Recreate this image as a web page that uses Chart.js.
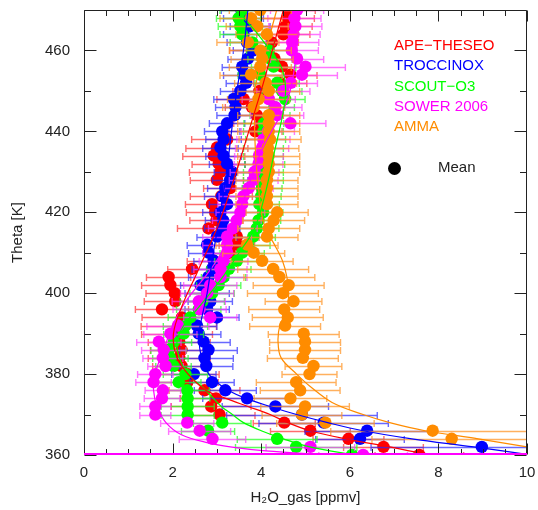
<!DOCTYPE html>
<html>
<head>
<meta charset="utf-8">
<script src="https://cdn.jsdelivr.net/npm/chart.js@4.4.1/dist/chart.umd.min.js"></script>
<style>
html,body{margin:0;padding:0;background:#fff;}
#wrap{width:538px;height:510px;}
</style>
</head>
<body>
<div id="wrap"><canvas id="c" width="538" height="510"></canvas></div>
<script>
// ---------------- DATA ----------------
const SERIES_NAMES = ["APE\u2212THESEO", "TROCCINOX", "SCOUT\u2212O3", "SOWER 2006", "AMMA"];

const THETA_FULL = [360,362,364,366,368,370,372,374,376,378,380,382,384,386,388,390,392,394,396,398,400,402,404,406,408,410,412,414,416,418,420,422,424,426,428,430,432,434,436,438,440,442,444,446,448,450,452,454,456,458,460,462,464,466,468,470];
const THETA_BLUE = [362,364,366,368,370,372,374,376,378,380,382,384,386,388,390,392,394,396,398,400,402,404,406,408,410,412,414,416,418,420,422,424,426,428,430,432,434,436,438,440,442,444,446,448,450,452,454,456,458,460,462,464,466,468,470];
const THETA_ORANGE = [364,366,368,370,372,374,376,378,380,382,384,386,388,390,392,394,396,398,400,402,404,406,408,410,412,414,416,418,420,422,424,426,428,430,432,434,436,438,440,442,444,446,448,450,452,454,456,458,460,462,464,466,468,470];

const RED_X = [7.57,6.76,5.97,5.11,4.52,3.06,2.87,2.98,2.72,2.33,2.35,2.20,2.15,2.20,2.15,2.10,2.14,2.21,1.76,2.06,2.05,1.95,1.91,2.44,2.93,3.29,3.45,3.45,2.81,2.99,2.96,2.89,3.10,3.30,3.00,3.08,3.04,2.93,3.00,3.23,3.87,3.98,3.90,3.79,3.60,3.96,4.43,4.66,4.47,4.30,3.79,4.24,4.50,4.55,4.60,4.62];
const RED_ERR = [1.0,0.9,0.8,0.9,0.7,0.8,0.9,0.8,0.8,0.7,0.7,0.65,0.7,0.7,0.7,0.8,0.85,0.9,0.6,0.7,0.65,0.65,0.5,0.55,0.6,0.45,0.4,0.5,0.7,0.6,0.65,0.6,0.7,0.6,0.6,0.7,0.6,0.7,0.7,0.8,0.6,0.6,0.6,0.6,0.6,0.6,0.6,0.6,0.6,0.6,0.5,0.6,0.6,0.6,0.6,0.6];

const BLUE_X = [8.98,6.23,6.39,5.41,4.92,4.32,3.68,3.19,2.89,2.48,2.76,2.72,2.81,2.70,2.59,2.55,3.00,2.78,2.85,2.78,2.63,2.81,2.89,2.93,2.81,2.78,3.00,3.12,3.14,3.08,3.23,3.12,3.19,3.30,3.34,3.23,3.15,3.08,3.15,3.12,3.23,3.40,3.42,3.38,3.53,3.66,3.60,3.57,3.70,3.82,3.68,3.60,3.75,3.60,3.55];
const BLUE_ERR = [2.5,1.0,1.4,1.46,1.7,1.2,1.0,0.7,0.5,0.5,0.6,0.65,0.65,0.6,0.5,0.45,0.5,0.5,0.5,0.5,0.45,0.45,0.45,0.45,0.45,0.45,0.45,0.4,0.4,0.4,0.4,0.4,0.4,0.4,0.4,0.4,0.4,0.4,0.4,0.4,0.4,0.4,0.45,0.45,0.45,0.45,0.45,0.45,0.45,0.45,0.45,0.45,0.45,0.45,0.45];

const GREEN_X = [6.05,4.79,4.36,2.80,3.12,2.34,2.34,2.34,2.33,2.14,2.29,2.02,1.95,1.91,2.03,2.25,2.29,2.40,2.59,2.67,2.89,3.04,3.15,3.27,3.45,3.57,3.70,3.82,3.90,3.94,4.04,3.96,4.00,4.02,4.05,4.05,4.08,4.05,4.05,4.10,4.05,4.06,4.20,4.30,4.54,4.47,4.36,3.98,4.28,4.20,4.17,3.80,3.57,3.53,3.49,3.57];
const GREEN_ERR = [1.4,1.37,0.9,0.6,0.65,0.6,0.6,0.5,0.5,0.5,0.5,0.4,0.4,0.4,0.4,0.45,0.5,0.5,0.5,0.5,0.5,0.5,0.5,0.5,0.5,0.5,0.5,0.5,0.5,0.5,0.45,0.45,0.45,0.45,0.45,0.45,0.45,0.45,0.45,0.45,0.45,0.45,0.45,0.45,0.45,0.45,0.5,0.5,0.5,0.5,0.5,0.5,0.5,0.5,0.5,0.5];

const MAGENTA_X = [6.30,5.11,2.90,2.61,2.33,1.61,1.61,1.76,1.78,1.57,1.61,1.84,1.78,1.80,1.69,1.95,2.12,2.85,2.61,2.59,2.78,2.85,3.08,3.08,3.15,3.23,3.23,3.23,3.36,3.45,3.53,3.57,3.60,3.72,3.83,3.85,3.94,3.95,4.02,4.05,4.15,4.66,4.36,4.32,4.17,4.50,4.67,4.92,5.00,4.81,4.69,4.70,4.73,4.77,4.75,4.81];
const MAGENTA_ERR = [1.0,1.0,0.75,0.7,0.6,0.35,0.35,0.4,0.4,0.4,0.4,0.4,0.45,0.5,0.5,0.6,0.7,0.6,0.6,0.6,0.6,0.6,0.6,0.6,0.55,0.55,0.55,0.55,0.55,0.55,0.55,0.55,0.55,0.55,0.55,0.55,0.55,0.55,0.6,0.6,0.6,0.8,0.6,0.6,0.6,0.6,0.6,0.8,0.9,0.6,0.6,0.6,0.6,0.6,0.6,0.6];

const ORANGE_X = [8.30,7.87,5.45,4.92,4.99,4.66,4.88,4.79,5.09,5.18,4.94,4.99,4.99,4.96,4.54,4.60,4.52,4.73,4.49,4.62,4.41,4.27,4.02,3.83,3.68,4.13,4.17,4.28,4.36,4.13,4.13,4.13,4.13,4.17,4.17,4.17,4.15,4.20,4.17,4.17,4.17,3.83,3.94,4.17,4.10,3.77,3.98,4.02,3.98,3.70,4.13,3.91,3.77,3.98];
const ORANGE_ERR = [1.8,2.3,1.1,0.9,1.0,0.82,0.9,0.9,0.62,0.64,0.8,0.8,0.8,0.8,0.8,0.8,0.8,0.64,0.8,0.8,0.8,0.8,0.7,0.7,0.7,0.7,0.7,0.7,0.7,0.7,0.7,0.7,0.7,0.7,0.7,0.7,0.7,0.7,0.7,0.7,0.7,0.7,0.7,0.7,0.7,0.7,0.7,0.7,0.7,0.7,0.7,0.7,0.7,0.7];

// mean profiles
const RED_MEAN_T = [360,362,364,366,368,370,372,374,376,380,384,390,397,405,416,422,428,435,444,452,460,470];
const RED_MEAN_X = [7.8,6.9,5.9,5.1,4.6,4.2,3.7,3.2,2.75,2.35,2.1,2.02,2.22,2.55,3.0,3.2,3.38,3.58,3.83,4.05,4.25,4.5];
const BLUE_MEAN_T = [360,362,364,366,368,370,372,374,376,378,380,384,390,395,400,410,420,430,440,450,460,470];
const BLUE_MEAN_X = [10.1,8.8,7.4,6.3,5.5,4.8,4.2,3.65,3.25,3.0,2.82,2.65,2.6,2.68,2.78,2.92,3.08,3.22,3.33,3.45,3.6,3.7];
const GREEN_MEAN_T = [360,362,364,366,368,370,372,376,380,384,388,392,396,400,405,410,416,425,435,445,451,456,460,465,470];
const GREEN_MEAN_X = [6.1,5.1,4.5,4.0,3.6,3.35,3.1,2.75,2.35,2.15,2.1,2.25,2.55,2.85,3.2,3.5,3.85,4.1,4.3,4.5,4.55,4.45,4.2,3.85,3.45];
const MAGENTA_MEAN_T = [360,361,362,363,365,368,372,376,380,386,392,398,405,410,420,435,448,460,470];
const MAGENTA_MEAN_X = [5.5,4.1,3.3,2.8,2.2,1.85,1.65,1.57,1.6,1.8,2.0,2.3,2.8,3.1,3.5,4.0,4.6,4.8,4.85];
const ORANGE_MEAN_T = [362,364,366,368,370,373,377,380,384,388,392,396,400,404,408,412,416,420,425,430,435,442,451,460,470];
const ORANGE_MEAN_X = [10.0,8.9,7.7,6.9,6.3,5.6,5.1,4.8,4.45,4.38,4.42,4.58,4.62,4.58,4.48,4.3,4.1,4.0,3.95,3.9,3.87,3.85,3.87,4.1,4.35];

const X_MIN = 0, X_MAX = 10, X_STEP = 2, X_MINOR = 0.5;
const Y_MIN = 360, Y_MAX = 470, Y_STEP = 20, Y_MINOR = 10;

const COLORS = ['#ff0000', '#0000ff', '#00ff00', '#ff00ff', '#ff8c00'];
const ERR_COLORS = ['rgba(255,60,60,0.75)', 'rgba(40,40,255,0.7)', 'rgba(40,255,40,0.75)', 'rgba(255,60,255,0.7)', 'rgba(255,150,40,0.75)'];

// ---------------- BUILD ----------------
function pts(xs, ts) { return xs.map((v, i) => ({x: v, y: ts[i]})); }

const pointSets = [
  {x: RED_X, t: THETA_FULL, e: RED_ERR},
  {x: BLUE_X, t: THETA_BLUE, e: BLUE_ERR},
  {x: GREEN_X, t: THETA_FULL, e: GREEN_ERR},
  {x: MAGENTA_X, t: THETA_FULL, e: MAGENTA_ERR},
  {x: ORANGE_X, t: THETA_ORANGE, e: ORANGE_ERR}
];
const meanSets = [
  {x: RED_MEAN_X, t: RED_MEAN_T},
  {x: BLUE_MEAN_X, t: BLUE_MEAN_T},
  {x: GREEN_MEAN_X, t: GREEN_MEAN_T},
  {x: MAGENTA_MEAN_X, t: MAGENTA_MEAN_T},
  {x: ORANGE_MEAN_X, t: ORANGE_MEAN_T}
];

const datasets = [];
meanSets.forEach((m, i) => {
  datasets.push({
    label: SERIES_NAMES[i] + ' mean',
    data: pts(m.x, m.t),
    showLine: true, borderColor: COLORS[i], borderWidth: 1.2,
    pointRadius: 0, tension: 0.35, order: 0, fill: false
  });
});
pointSets.forEach((s, i) => {
  datasets.push({
    label: SERIES_NAMES[i],
    data: pts(s.x, s.t),
    errors: s.e, errColor: ERR_COLORS[i],
    showLine: false, backgroundColor: COLORS[i], borderWidth: 0,
    pointRadius: 6.2, pointHoverRadius: 6.2, order: 10 - i
  });
});

const FONT = '"Liberation Sans", Arial, Helvetica, sans-serif';

const errPlugin = {
  id: 'errbars',
  beforeDatasetDraw(chart, args) {
    const ds = chart.data.datasets[args.index];
    if (!ds.errors) return;
    const xs = chart.scales.x, ys = chart.scales.y, a = chart.chartArea, ctx = chart.ctx;
    ctx.save();
    ctx.beginPath(); ctx.rect(a.left, a.top, a.right - a.left, a.bottom - a.top); ctx.clip();
    ctx.strokeStyle = ds.errColor; ctx.lineWidth = 1.4;
    ds.data.forEach((p, i) => {
      const e = ds.errors[i];
      const x1 = xs.getPixelForValue(p.x - e), x2 = xs.getPixelForValue(p.x + e);
      const y = Math.round(ys.getPixelForValue(p.y)) + 0.5;
      ctx.beginPath();
      ctx.moveTo(x1, y); ctx.lineTo(x2, y);
      ctx.moveTo(x1, y - 3.5); ctx.lineTo(x1, y + 3.5);
      ctx.moveTo(x2, y - 3.5); ctx.lineTo(x2, y + 3.5);
      ctx.stroke();
    });
    ctx.restore();
  }
};

const framePlugin = {
  id: 'frame',
  afterDraw(chart) {
    const xs = chart.scales.x, ys = chart.scales.y, a = chart.chartArea, ctx = chart.ctx;
    ctx.save();
    ctx.strokeStyle = '#222'; ctx.lineWidth = 1;
    const L = Math.round(a.left) + 0.5, R = Math.round(a.right) - 0.5, T = Math.round(a.top) + 0.5, B = Math.round(a.bottom) - 0.5;
    ctx.beginPath();
    ctx.moveTo(L, B); ctx.lineTo(L, T); ctx.lineTo(R, T); ctx.lineTo(R, B);
    for (let v = X_MIN; v <= X_MAX + 1e-9; v += X_MINOR) {
      const major = Math.abs(v / X_STEP - Math.round(v / X_STEP)) < 1e-6;
      const len = major ? 11 : 5.5;
      const px = Math.round(xs.getPixelForValue(v)) + 0.5;
      ctx.moveTo(px, B); ctx.lineTo(px, B - len);
      ctx.moveTo(px, T); ctx.lineTo(px, T + len);
    }
    for (let v = Y_MIN; v <= Y_MAX + 1e-9; v += Y_MINOR) {
      const major = Math.abs((v - Y_MIN) / Y_STEP - Math.round((v - Y_MIN) / Y_STEP)) < 1e-6;
      const len = major ? 12 : 6.5;
      const py = Math.round(ys.getPixelForValue(v)) + 0.5;
      ctx.moveTo(L, py); ctx.lineTo(L + len, py);
      ctx.moveTo(R, py); ctx.lineTo(R - len, py);
    }
    ctx.stroke();
    ctx.strokeStyle = '#ff00ff'; ctx.lineWidth = 2;
    ctx.beginPath(); ctx.moveTo(a.left, a.bottom - 1); ctx.lineTo(a.right, a.bottom - 1); ctx.stroke();

    ctx.font = '15px ' + FONT;
    ctx.textBaseline = 'middle'; ctx.textAlign = 'left';
    const ly = [45.5, 66, 86.5, 106.5, 126.5];
    SERIES_NAMES.forEach((n, i) => { ctx.fillStyle = COLORS[i]; ctx.fillText(n, 394, ly[i]); });
    ctx.fillStyle = '#000';
    ctx.beginPath(); ctx.arc(394.5, 168.5, 6.5, 0, Math.PI * 2); ctx.fill();
    ctx.fillStyle = '#222';
    ctx.fillText('Mean', 438, 168);
    ctx.restore();
  }
};

new Chart(document.getElementById('c'), {
  type: 'scatter',
  data: {datasets},
  options: {
    responsive: false, animation: false, devicePixelRatio: 1,
    layout: {padding: {top: 10, right: 11, left: 0, bottom: 0}},
    plugins: {legend: {display: false}, tooltip: {enabled: false}},
    scales: {
      x: {
        type: 'linear', min: X_MIN, max: X_MAX,
        grid: {display: false}, border: {display: false},
        ticks: {stepSize: X_STEP, color: '#222', font: {size: 15, family: FONT}, padding: 1, maxRotation: 0},
        title: {display: true, text: 'H\u2082O_gas [ppmv]', color: '#222', font: {size: 15, family: FONT}, padding: {top: 0, bottom: 3}},
        afterFit(s) { s.height = 55; s.paddingLeft = 0; s.paddingRight = 0; }
      },
      y: {
        type: 'linear', min: Y_MIN, max: Y_MAX,
        grid: {display: false}, border: {display: false},
        ticks: {stepSize: Y_STEP, includeBounds: false, color: '#222', font: {size: 15, family: FONT}, padding: 6},
        title: {display: true, text: 'Theta [K]', color: '#222', font: {size: 15, family: FONT}, padding: {top: 9, bottom: 0}},
        afterFit(s) { s.width = 84; s.paddingTop = 0; s.paddingBottom = 0; }
      }
    }
  },
  plugins: [errPlugin, framePlugin]
});
</script>
</body>
</html>
